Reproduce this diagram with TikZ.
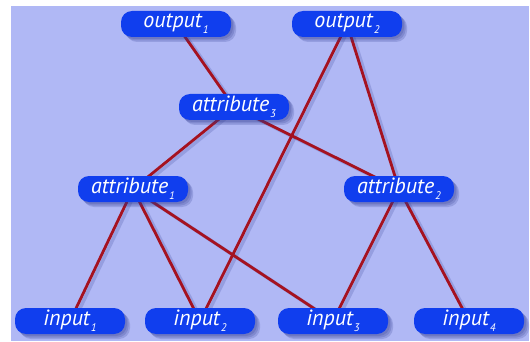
\documentclass[tikz,border=0pt]{standalone}
\usepackage{fontspec}
\setmainfont{PT Sans}
\usetikzlibrary{shadows}
\pgfdeclarelayer{panel}
\pgfdeclarelayer{edges}
\pgfsetlayers{panel,edges,main}
\definecolor{bgpanel}{RGB}{176,184,245}
\definecolor{boxblue}{RGB}{16,62,238}
\definecolor{linkred}{RGB}{165,18,32}
\definecolor{shadeblue}{RGB}{45,55,140}
\newcommand\lowidx[1]{\kern1pt\raisebox{-6pt}{\fontsize{11}{11}\selectfont #1}}
\tikzset{
  softshade/.style={general shadow={shadow xshift=#1, shadow yshift=-#1,
      fill=shadeblue, opacity=0.2}},
  unitbox/.style={rounded corners=11pt, fill=boxblue, minimum width=110pt,
    minimum height=26pt, inner sep=0pt, text=white,
    font=\itshape\fontsize{22}{22}\selectfont,
    softshade=5pt, softshade=3.5pt, softshade=2pt},
  link/.style={linkred, line width=2.8pt},
  linkshade/.style={shadeblue, opacity=0.2, line width=3.5pt}
}
\begin{document}
\begin{tikzpicture}[x=1pt,y=-1pt]
  \useasboundingbox (0,0) rectangle (530,342);
  \begin{pgfonlayer}{panel}
    \fill[bgpanel] (11,6) rectangle (529,341);
  \end{pgfonlayer}

  % outputs
  \node[unitbox] (o1) at (176,24) {output\lowidx{1}};
  \node[unitbox] (o2) at (347,24) {output\lowidx{2}};
  % attributes
  \node[unitbox] (a3) at (234,107) {attribute\lowidx{3}};
  \node[unitbox] (a1) at (133,189) {attribute\lowidx{1}};
  \node[unitbox] (a2) at (399,189) {attribute\lowidx{2}};
  % inputs
  \node[unitbox] (i1) at (70,321) {input\lowidx{1}};
  \node[unitbox] (i2) at (200,321) {input\lowidx{2}};
  \node[unitbox] (i3) at (333,321) {input\lowidx{3}};
  \node[unitbox] (i4) at (469,321) {input\lowidx{4}};

  % connections, drawn behind the boxes
  \begin{pgfonlayer}{edges}
    \foreach \p/\q in {o1/a3, o2/i2, o2/a2, a3/a1, a3/a2,
                       a1/i1, a1/i2, a1/i3, a2/i3, a2/i4} {
      \draw[linkshade, transform canvas={xshift=3pt, yshift=-2pt}]
        (\p.center) -- (\q.center);
      \draw[link] (\p.center) -- (\q.center);
    }
  \end{pgfonlayer}
\end{tikzpicture}
\end{document}
